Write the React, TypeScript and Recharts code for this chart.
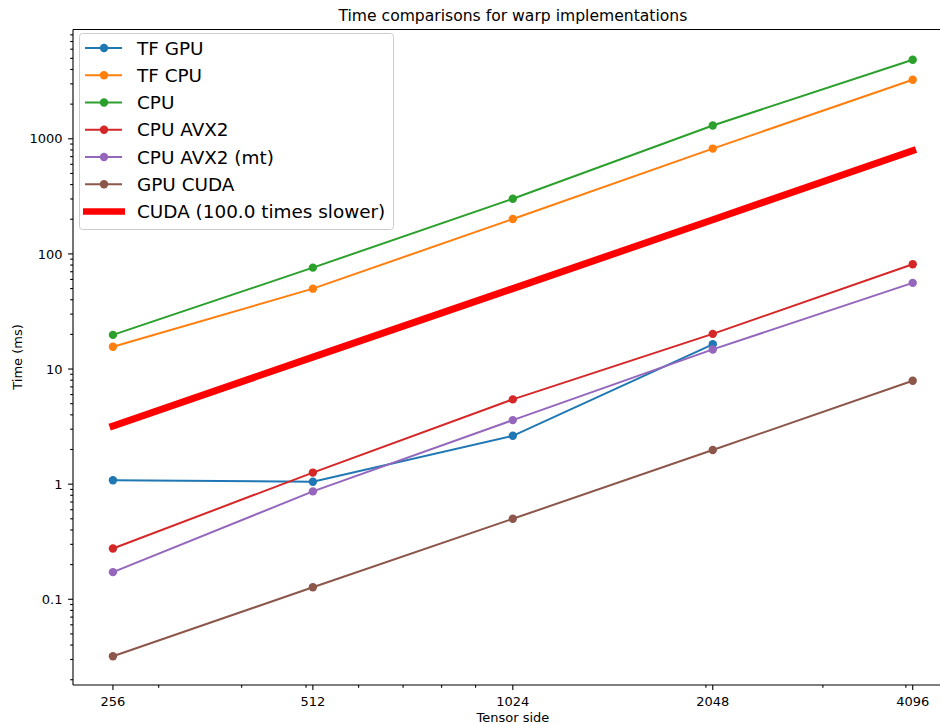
import React from 'react'
import { LineChart, Line, XAxis, YAxis, Legend, ReferenceLine } from 'recharts'

const sizes = [256, 512, 1024, 2048, 4096]
const tfGpu = [1.08, 1.05, 2.63, 16.4, null]
const tfCpu = [15.6, 49.9, 201, 822, 3260]
const cpu = [19.8, 76, 301, 1305, 4860]
const cpuAvx2 = [0.276, 1.26, 5.45, 20.2, 81.3]
const cpuAvx2Mt = [0.172, 0.865, 3.6, 14.8, 56]
const gpuCuda = [0.032, 0.127, 0.5, 1.98, 7.9]
const cudaSlower = [3.2, 12.7, 50, 198, 790]

const xMajor = [256, 512, 1024, 2048, 4096]
const xMinor = [300, 400, 500, 600, 700, 800, 900, 2000, 3000, 4000]
const yMajor = [0.1, 1, 10, 100, 1000]
const yLabels = ['0.1', '1', '10', '100', '1000']
const decades = [0.01, 0.1, 1, 10, 100, 1000]
const subs = [2, 3, 4, 5, 6, 7, 8, 9]
const yMinor = decades.flatMap((d) => subs.map((s) => s * d)).filter((v) => v > 0.018 && v < 8900)

const xDomain = [222.9, 4705]
const yDomain = [0.018, 8900]

const series = [
  { key: 'tfGpu', name: 'TF GPU', color: '#1f77b4', values: tfGpu },
  { key: 'tfCpu', name: 'TF CPU', color: '#ff7f0e', values: tfCpu },
  { key: 'cpu', name: 'CPU', color: '#2ca02c', values: cpu },
  { key: 'cpuAvx2', name: 'CPU AVX2', color: '#d62728', values: cpuAvx2 },
  { key: 'cpuAvx2Mt', name: 'CPU AVX2 (mt)', color: '#9467bd', values: cpuAvx2Mt },
  { key: 'gpuCuda', name: 'GPU CUDA', color: '#8c564b', values: gpuCuda },
]

const data = sizes.map((size, i) => {
  const row: any = { size, cudaSlower: cudaSlower[i] }
  series.forEach((s) => (row[s.key] = s.values[i]))
  return row
})

const font = 'DejaVu Sans, sans-serif'
const tickFont = 13

const XTick = (props: any) => {
  const { x, y, payload } = props
  const major = xMajor.includes(payload.value)
  return (
    <g>
      <line x1={x} x2={x} y1={y} y2={y + (major ? 4.9 : 2.8)} stroke="#000" strokeWidth={1.1} />
      {major && (
        <text x={x} y={y + 20.8} textAnchor="middle" fontSize={tickFont} fontFamily={font} fill="#000">
          {payload.value}
        </text>
      )}
    </g>
  )
}

const YTick = (props: any) => {
  const { x, y, payload } = props
  const idx = yMajor.findIndex((v) => Math.abs(v - payload.value) < 1e-9)
  const major = idx >= 0
  return (
    <g>
      <line x1={x - (major ? 4.9 : 2.8)} x2={x} y1={y} y2={y} stroke="#000" strokeWidth={1.1} />
      {major && (
        <text x={x - 10.5} y={y + 4.7} textAnchor="end" fontSize={tickFont} fontFamily={font} fill="#000">
          {yLabels[idx]}
        </text>
      )}
    </g>
  )
}

const renderLegend = () => (
  <svg width={316} height={198} style={{ display: 'block' }}>
    <rect x={0.5} y={0.5} width={314} height={196} rx={3} fill="#fff" fillOpacity={0.8} stroke="#cccccc" />
    {series.map((s, i) => {
      const cy = 15 + i * 27.25
      return (
        <g key={s.key}>
          <line x1={6} x2={43} y1={cy} y2={cy} stroke={s.color} strokeWidth={2} />
          <circle cx={25} cy={cy} r={4.2} fill={s.color} />
          <text x={58} y={cy + 6.6} fontSize={18.4} fontFamily={font} fill="#000">
            {s.name}
          </text>
        </g>
      )
    })}
    <line x1={4} x2={46} y1={15 + 6 * 27.25} y2={15 + 6 * 27.25} stroke="#ff0000" strokeWidth={6.5} />
    <text x={58} y={15 + 6 * 27.25 + 6.6} fontSize={18.4} fontFamily={font} fill="#000">
      CUDA (100.0 times slower)
    </text>
  </svg>
)

export default function App() {
  return (
    <div style={{ position: 'absolute', left: 0, top: 0, width: 940, height: 724, overflow: 'hidden', background: '#fff' }}>
      <LineChart width={960} height={724} data={data} margin={{ top: 29.5, right: 7.3, bottom: 0, left: 0 }} style={{ fontFamily: font }}>
        <XAxis
          dataKey="size"
          type="number"
          scale="log"
          domain={xDomain}
          allowDataOverflow
          ticks={[...xMajor, ...xMinor]}
          interval={0}
          height={39}
          tickSize={0}
          tickMargin={0}
          tickLine={false}
          tick={<XTick />}
          axisLine={{ stroke: '#000', strokeWidth: 1.1 }}
        />
        <YAxis
          type="number"
          scale="log"
          domain={yDomain}
          allowDataOverflow
          ticks={[...yMajor, ...yMinor]}
          interval={0}
          width={73}
          tickSize={0}
          tickMargin={0}
          tickLine={false}
          tick={<YTick />}
          axisLine={{ stroke: '#000', strokeWidth: 1.1 }}
        />
        <ReferenceLine y={yDomain[1]} stroke="#000" strokeWidth={1.1} ifOverflow="visible" />
        <ReferenceLine x={xDomain[1]} stroke="#000" strokeWidth={1.1} ifOverflow="visible" />
        {series.map((s) => (
          <Line
            key={s.key}
            dataKey={s.key}
            name={s.name}
            stroke={s.color}
            strokeWidth={2}
            dot={{ r: 4.2, fill: s.color, stroke: s.color, strokeWidth: 0 }}
            activeDot={false}
            isAnimationActive={false}
            type="linear"
          />
        ))}
        <Line
          dataKey="cudaSlower"
          name="CUDA (100.0 times slower)"
          stroke="#ff0000"
          strokeWidth={7}
          strokeLinecap="square"
          dot={false}
          activeDot={false}
          isAnimationActive={false}
          type="linear"
        />
        <Legend
          layout="vertical"
          align="center"
          verticalAlign="middle"
          content={renderLegend}
          wrapperStyle={{ left: 79, top: 33, width: 316, height: 198 }}
        />
      </LineChart>
      <svg width={940} height={724} style={{ position: 'absolute', left: 0, top: 0, pointerEvents: 'none' }}>
        <text x={512.9} y={21.3} textAnchor="middle" fontSize={15.6} fontFamily={font} fill="#000">
          Time comparisons for warp implementations
        </text>
        <text x={512.9} y={722} textAnchor="middle" fontSize={tickFont} fontFamily={font} fill="#000">
          Tensor side
        </text>
        <text x={21.5} y={357} textAnchor="middle" fontSize={tickFont} fontFamily={font} fill="#000" transform="rotate(-90 21.5 357)">
          Time (ms)
        </text>
      </svg>
    </div>
  )
}
